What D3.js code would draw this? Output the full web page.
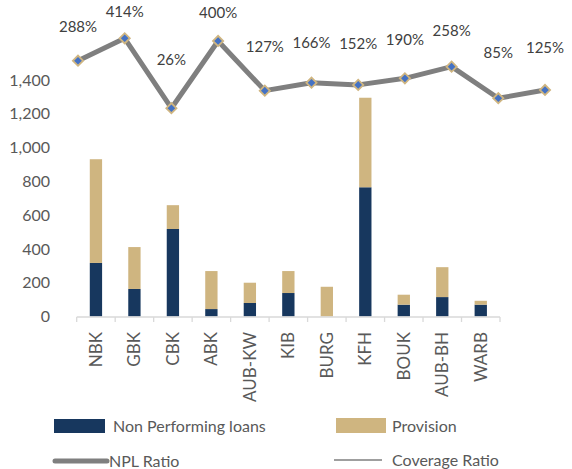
<!DOCTYPE html>
<html>
<head>
<meta charset="utf-8">
<script src="https://cdn.jsdelivr.net/npm/d3@7"></script>
<style>
  body { margin: 0; background: #fff; }
  text { font-family: Lato, "Open Sans", sans-serif; }
</style>
</head>
<body>
<div id="chart"></div>
<script>
const banks = ["NBK", "GBK", "CBK", "ABK", "AUB-KW", "KIB", "BURG", "KFH", "BOUK", "AUB-BH", "WARB"];
const npl = [317, 163, 518, 44, 80, 139, 0, 765, 70, 115, 70];
const provision = [614, 248, 141, 225, 120, 130, 176, 530, 59, 177, 23];
// NPL ratio line, read against the visible left axis
const nplRatio = [1514, 1647, 1233, 1631, 1337, 1384, 1371, 1410, 1479, 1292, 1341];
const coverage = [288, 414, 26, 400, 127, 166, 152, 190, 258, 85, 125];
const yTicks = [0, 200, 400, 600, 800, 1000, 1200, 1400];

const width = 572, height = 469;
const navy = "#17375e", tan = "#cfb580", grey = "#7f7f7f";

const svg = d3.select("#chart").append("svg")
  .attr("width", width)
  .attr("height", height);

const x = d3.scaleBand()
  .domain(banks)
  .range([76.7, 500])
  .paddingInner(0.68)
  .paddingOuter(0.34);

// line series sits on its own (hidden) horizontal axis
const xLine = d3.scalePoint()
  .domain(banks)
  .range([78, 545]);

const y = d3.scaleLinear()
  .domain([0, 1400])
  .range([316.5, 80]);

// hidden axis for the coverage ratio labels
const yCov = d3.scaleLinear()
  .domain([0, 500])
  .range([63, 0.5]);

// y tick labels
svg.append("g")
  .selectAll("text")
  .data(yTicks)
  .enter()
  .append("text")
  .attr("x", 50)
  .attr("y", d => y(d))
  .attr("dy", "0.35em")
  .attr("text-anchor", "end")
  .attr("font-size", 16)
  .attr("fill", "#595959")
  .text(d => d3.format(",")(d));

// stacked bars
const stack = banks.map((b, i) => ({ bank: b, npl: npl[i], prov: provision[i] }));

svg.append("g")
  .selectAll("rect")
  .data(stack)
  .enter()
  .append("rect")
  .attr("x", d => x(d.bank))
  .attr("width", x.bandwidth())
  .attr("y", d => y(d.npl))
  .attr("height", d => y(0) - y(d.npl))
  .attr("fill", navy);

svg.append("g")
  .selectAll("rect")
  .data(stack)
  .enter()
  .append("rect")
  .attr("x", d => x(d.bank))
  .attr("width", x.bandwidth())
  .attr("y", d => y(d.npl + d.prov))
  .attr("height", d => y(d.npl) - y(d.npl + d.prov))
  .attr("fill", tan);

// x axis line and ticks between categories
const axisG = svg.append("g").attr("stroke", "#d9d9d9").attr("stroke-width", 1.3);
const [x0, x1] = x.range();
axisG.append("line")
  .attr("x1", x0).attr("x2", x1)
  .attr("y1", 317).attr("y2", 317);
axisG.selectAll(".tick")
  .data(d3.range(banks.length + 1))
  .enter()
  .append("line")
  .attr("class", "tick")
  .attr("x1", i => x0 + i * x.step())
  .attr("x2", i => x0 + i * x.step())
  .attr("y1", 317).attr("y2", 322);

// x labels, rotated
svg.append("g")
  .selectAll("text")
  .data(banks)
  .enter()
  .append("text")
  .attr("transform", d => `translate(${x(d) + x.bandwidth() / 2},332) rotate(-90)`)
  .attr("dy", "0.35em")
  .attr("text-anchor", "end")
  .attr("font-size", 17)
  .attr("fill", "#595959")
  .text(d => d);

// NPL ratio line
const line = d3.line()
  .x((d, i) => xLine(banks[i]))
  .y(d => y(d));

svg.append("path")
  .datum(nplRatio)
  .attr("d", line)
  .attr("fill", "none")
  .attr("stroke", grey)
  .attr("stroke-width", 5)
  .attr("stroke-linejoin", "round");

svg.append("g")
  .selectAll("path")
  .data(nplRatio)
  .enter()
  .append("path")
  .attr("d", d3.symbol().type(d3.symbolSquare).size(52))
  .attr("transform", (d, i) => `translate(${xLine(banks[i])},${y(d)}) rotate(45)`)
  .attr("fill", "#4472c4")
  .attr("stroke", tan)
  .attr("stroke-width", 1.8);

// coverage ratio labels
svg.append("g")
  .selectAll("text")
  .data(coverage)
  .enter()
  .append("text")
  .attr("x", (d, i) => xLine(banks[i]))
  .attr("y", d => yCov(d))
  .attr("dy", "0.35em")
  .attr("text-anchor", "middle")
  .attr("font-size", 15)
  .attr("fill", "#404040")
  .text(d => d + "%");

// legend
const legend = svg.append("g").attr("font-size", 16).attr("fill", "#595959");

legend.append("rect")
  .attr("x", 54).attr("y", 419).attr("width", 51).attr("height", 14)
  .attr("fill", navy);
legend.append("text").attr("x", 113).attr("y", 426).attr("dy", "0.35em")
  .attr("fill", "#595959").text("Non Performing loans");

legend.append("rect")
  .attr("x", 336).attr("y", 418).attr("width", 50).attr("height", 15)
  .attr("fill", tan);
legend.append("text").attr("x", 392).attr("y", 426).attr("dy", "0.35em")
  .attr("fill", "#595959").text("Provision");

legend.append("line")
  .attr("x1", 55).attr("x2", 107).attr("y1", 461).attr("y2", 461)
  .attr("stroke", grey).attr("stroke-width", 5).attr("stroke-linecap", "round");
legend.append("text").attr("x", 109).attr("y", 461).attr("dy", "0.35em")
  .attr("fill", "#595959").text("NPL Ratio");

legend.append("line")
  .attr("x1", 334).attr("x2", 382).attr("y1", 460).attr("y2", 460)
  .attr("stroke", grey).attr("stroke-width", 1.3);
legend.append("text").attr("x", 392).attr("y", 460).attr("dy", "0.35em")
  .attr("fill", "#595959").text("Coverage Ratio");
</script>
</body>
</html>
